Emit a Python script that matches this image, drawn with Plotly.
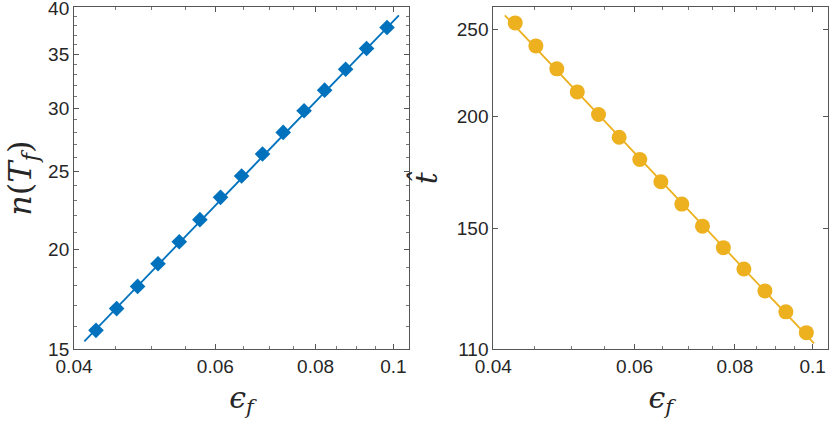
import plotly.graph_objects as go
import numpy as np

# dati (assi log-log)
eps_f = [0.0426, 0.0452, 0.0480, 0.0509, 0.0541, 0.0574, 0.0609, 0.0647,
         0.0687, 0.0729, 0.0774, 0.0821, 0.0872, 0.0926, 0.0982]
n_Tf = [15.84, 16.86, 17.97, 19.18, 20.43, 21.77, 23.21, 24.68,
        26.29, 27.97, 29.77, 31.58, 33.54, 35.60, 37.80]
t_hat = [254.3, 239.7, 226.0, 213.0, 201.0, 189.6, 179.1, 169.1,
         159.7, 150.9, 142.8, 135.2, 127.8, 121.1, 114.8]

# retta di fit (estremi)
fit_eps_n = [0.0412, 0.1016]
fit_n = [15.35, 39.16]
fit_eps_t = [0.04135, 0.1004]
fit_t = [259.3, 111.7]

x_ticks = [0.04, 0.06, 0.08, 0.1]
x_minor = [0.045, 0.05, 0.055, 0.065, 0.07, 0.075, 0.085, 0.09, 0.095]
y1_ticks = [15, 20, 25, 30, 35, 40]
y1_minor = [16, 17, 18, 19, 21, 22, 23, 24, 26, 27, 28, 29, 31, 32, 33, 34, 36, 37, 38, 39]
y2_ticks = [110, 150, 200, 250]

blu = "#0072BD"
giallo = "#EDB120"
grigio = "#262626"

fig = go.Figure()

fig.add_trace(go.Scatter(x=fit_eps_n, y=fit_n, mode="lines",
                         line=dict(color=blu, width=1.8), xaxis="x", yaxis="y"))
fig.add_trace(go.Scatter(x=eps_f, y=n_Tf, mode="markers",
                         marker=dict(symbol="diamond", size=12, color=blu),
                         xaxis="x", yaxis="y"))
fig.add_trace(go.Scatter(x=fit_eps_t, y=fit_t, mode="lines",
                         line=dict(color=giallo, width=1.8), xaxis="x2", yaxis="y2"))
fig.add_trace(go.Scatter(x=eps_f, y=t_hat, mode="markers",
                         marker=dict(symbol="circle", size=15, color=giallo),
                         xaxis="x2", yaxis="y2"))

font_tick = dict(family="Liberation Sans", size=19, color=grigio)
font_titolo = dict(family="DejaVu Serif", size=27, color=grigio)

asse = dict(type="log", showline=True, linecolor="#555555", linewidth=1,
            mirror="ticks", ticks="inside", ticklen=5, tickcolor="#555555",
            showgrid=False, zeroline=False, tickfont=font_tick, tickmode="array",
            automargin=False)

x_common = dict(asse, range=[np.log10(0.04), np.log10(0.1046)],
                tickvals=x_ticks, ticktext=["0.04", "0.06", "0.08", "0.1"],
                minor=dict(tickmode="array", tickvals=x_minor, ticks="inside",
                           ticklen=3, tickcolor="#777777"),
                title=dict(text="<i>ϵ<sub>f</sub></i>", font=dict(font_titolo, size=30), standoff=10))

fig.update_layout(
    width=830, height=424,
    margin=dict(l=0, r=0, t=0, b=0, pad=0),
    font=dict(family="Liberation Sans", size=19, color=grigio),
    paper_bgcolor="white", plot_bgcolor="white",
    showlegend=False,
    xaxis=dict(x_common, domain=[0.0892, 0.4928], anchor="y"),
    yaxis=dict(asse, domain=[0.1762, 0.9835], anchor="x",
               range=[np.log10(15), np.log10(40.1)],
               tickvals=y1_ticks, ticktext=[str(v) for v in y1_ticks],
               ticklabeloverflow="allow",
               minor=dict(tickmode="array", tickvals=y1_minor, ticks="inside",
                          ticklen=3, tickcolor="#777777"),
               title=dict(text="<i>n</i>(<i>T<sub>f</sub></i>)", font=dict(font_titolo, size=32),
                          standoff=6)),
    xaxis2=dict(x_common, domain=[0.5943, 0.998], anchor="y2"),
    yaxis2=dict(asse, domain=[0.1762, 0.9835], anchor="x2",
                range=[np.log10(110), np.log10(264.9)],
                tickvals=y2_ticks, ticktext=[str(v) for v in y2_ticks],
                title=dict(text="<i>t̂</i>", font=dict(font_titolo, size=30), standoff=10)),
)

# niente margine del body, così la figura parte da (0,0)
fig.write_html("out.html", config={"displayModeBar": False},
               post_script="document.body.style.margin='0';")
